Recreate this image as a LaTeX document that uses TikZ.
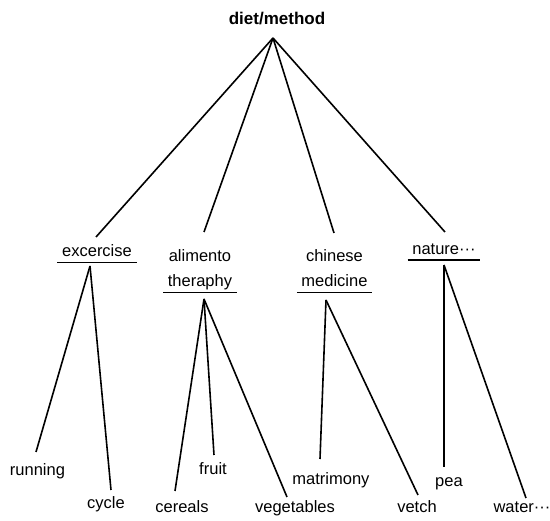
\documentclass[tikz,border=0pt]{standalone}
\usepackage{fontspec}
\setmainfont{Liberation Sans}
\usetikzlibrary{positioning}

\begin{document}
\begin{tikzpicture}[x=1pt,y=-1pt,
  lbl/.style={inner sep=0pt,anchor=base,font=\fontsize{16.5}{25}\selectfont},
  cat/.style={align=center,inner xsep=4.5pt,inner ysep=1.5pt,text depth=4pt,anchor=south,font=\fontsize{16.5}{25}\selectfont},
  edge/.style={line width=1.6pt},
  uline/.style={line width=1.2pt}]
\useasboundingbox (0,0) rectangle (550,521);

% top
\node[lbl,font=\fontsize{17}{20}\selectfont\bfseries] (diet) at (277,25) {diet/method};
\coordinate (dietFork) at (273,38);

% second level
\node[cat] (excercise) at (97,262.5) {excercise};
\node[cat] (alimento) at (200,292.5) {alimento\\theraphy};
\node[cat] (chinese) at (334.5,292.5) {chinese\\medicine};
\node[cat] (nature) at (444,260) {nature···};
\foreach \c in {excercise,alimento,chinese,nature}
  \draw[uline] (\c.south west) -- (\c.south east);

\coordinate (exTop) at (96,237);
\coordinate (alTop) at (204,232);
\coordinate (chTop) at (334,233);
\coordinate (naTop) at (445,232);
\foreach \t in {exTop,alTop,chTop,naTop}
  \draw[edge] (dietFork) -- (\t);

\coordinate (exFork) at (90,266);
\coordinate (alFork) at (204,299);
\coordinate (chFork) at (326,300);
\coordinate (naFork) at (444,265);

% leaves
\foreach \name/\txt/\x/\y/\ex/\ey/\fork in {
  running/running/37.5/476/36/452/exFork,
  cycle/cycle/106/509/111/490/exFork,
  cereals/cereals/182/513/175/491/alFork,
  fruit/fruit/213/475/214/455/alFork,
  vegetables/vegetables/295/513/287/497/alFork,
  matrimony/matrimony/331/485/320/459/chFork,
  vetch/vetch/417/513/418/495/chFork,
  pea/pea/449/487/444/467/naFork,
  water/water···/522/513/526/498/naFork}
{
  \node[lbl] (\name) at (\x,\y) {\txt};
  \coordinate (\name-end) at (\ex,\ey);
  \draw[edge] (\fork) -- (\name-end);
}
\end{tikzpicture}
\end{document}
